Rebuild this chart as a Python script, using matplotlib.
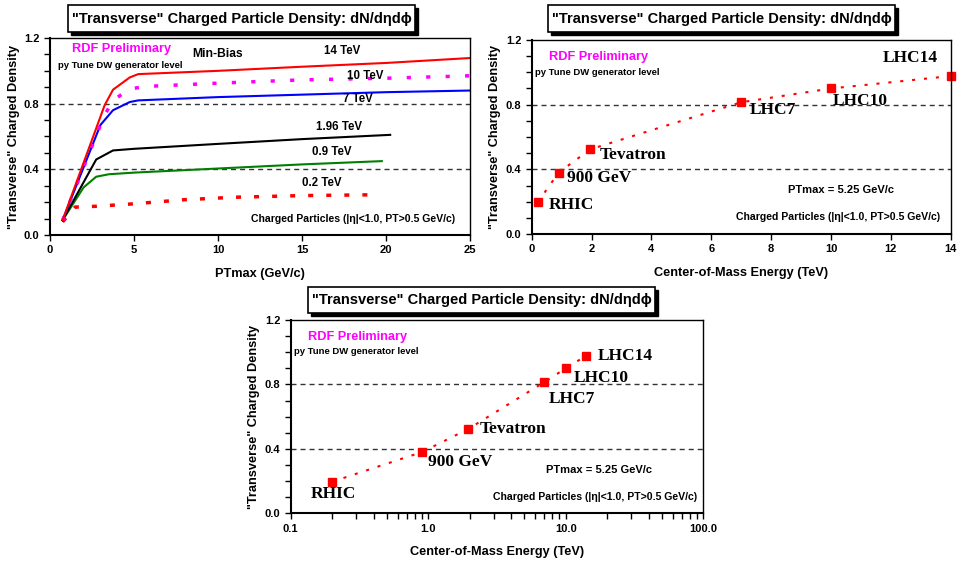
# coding:utf-8
import numpy as np
import matplotlib
matplotlib.use('Agg')
from matplotlib import pyplot as plt
from matplotlib.patches import Rectangle
from matplotlib.ticker import MultipleLocator, FixedLocator, LogLocator, NullFormatter

plt.rcParams['font.family'] = ['Liberation Sans', 'DejaVu Sans']
plt.rcParams['font.weight'] = 'bold'
plt.rcParams['axes.labelweight'] = 'bold'
plt.rcParams['lines.scale_dashes'] = False
plt.rcParams['figure.dpi'] = 100

# 左上图: 不同能量下 "Transverse" 密度随 PTmax 变化
x_14 = [0.75, 3.25, 3.75, 4.75, 5.25, 10, 15, 20, 25]
y_14 = [0.09, 0.79, 0.885, 0.96, 0.98, 1.0, 1.025, 1.048, 1.078]
x_10 = [0.75, 3.2, 3.75, 4.75, 5.75, 10, 15, 20, 25]
y_10 = [0.09, 0.72, 0.82, 0.89, 0.905, 0.925, 0.945, 0.955, 0.97]
x_7 = [0.75, 3.0, 3.75, 4.75, 5.25, 10, 15, 20, 25]
y_7 = [0.09, 0.67, 0.76, 0.81, 0.82, 0.84, 0.855, 0.87, 0.88]
x_196 = [0.75, 2.75, 3.75, 5, 10, 15, 20.25]
y_196 = [0.09, 0.46, 0.515, 0.525, 0.555, 0.584, 0.61]
x_09 = [0.75, 2.0, 2.75, 3.5, 5, 10, 15, 19.75]
y_09 = [0.09, 0.29, 0.355, 0.37, 0.38, 0.405, 0.43, 0.45]
x_02 = [0.75, 1.5, 2.75, 5, 8, 11, 15, 19.25]
y_02 = [0.08, 0.17, 0.175, 0.19, 0.215, 0.23, 0.24, 0.245]

# 右上图和下图: PTmax = 5.25 GeV/c 时的密度
energy = [0.2, 0.9, 1.96, 7, 10, 14]
density = [0.196, 0.38, 0.524, 0.815, 0.90, 0.977]
names = ['RHIC', '900 GeV', 'Tevatron', 'LHC7', 'LHC10', 'LHC14']

W, H = 963, 563
fig = plt.figure(figsize=(W / 100, H / 100))

TITLE = '"Transverse" Charged Particle Density: dN/d\u03b7d\u03d5'
CHG = 'Charged Particles (|\u03b7|<1.0, PT>0.5 GeV/c)'
serif = ['Liberation Serif', 'DejaVu Serif']
GRAY_DASH = (0, (3.6, 2.9))
RED_DOT = (0, (2.2, 6.4))


def ax_px(l, t, r, b):
    # 像素坐标 -> figure 比例
    return fig.add_axes([l / W, 1 - b / H, (r - l) / W, (b - t) / H])


def title_box(l, t, r, b):
    fig.add_artist(Rectangle(((l + 3) / W, 1 - (b + 3) / H), (r - l) / W, (b - t) / H,
                             transform=fig.transFigure, facecolor='black', edgecolor='black'))
    fig.add_artist(Rectangle((l / W, 1 - b / H), (r - l) / W, (b - t) / H,
                             transform=fig.transFigure, facecolor='white', edgecolor='black', lw=1.2))
    fig.text((l + r) / 2 / W, 1 - (t + b) / 2 / H, TITLE, ha='center', va='center',
             fontsize=10.5, fontweight='bold')


def style_ax(ax):
    ax.set_ylim(0, 1.2)
    ax.yaxis.set_major_locator(FixedLocator([0, 0.4, 0.8, 1.2]))
    ax.yaxis.set_minor_locator(MultipleLocator(0.1))
    ax.yaxis.set_major_formatter(plt.FuncFormatter(lambda v, p: '%.1f' % v))
    ax.tick_params(which='both', direction='out', length=4, width=1, labelsize=8)
    for s in ax.spines.values():
        s.set_linewidth(1.0)
    for s in ['left', 'bottom']:
        ax.spines[s].set_linewidth(1.5)
    ax.axhline(0.4, color='#333333', lw=1, ls=GRAY_DASH, zorder=1)
    ax.axhline(0.8, color='#333333', lw=1, ls=GRAY_DASH, zorder=1)
    ax.set_ylabel('"Transverse" Charged Density', fontsize=9.2, labelpad=3)
    for lab in ax.get_xticklabels() + ax.get_yticklabels():
        lab.set_fontweight('bold')


# ---------- 左上 ----------
ax1 = ax_px(50, 38, 470, 235)
title_box(68, 5, 415, 32)
ax1.plot(x_02, y_02, color='red', lw=2.5, ls=(0, (3.6, 9.4)))
ax1.plot(x_09, y_09, color='#007f00', lw=1.5)
ax1.plot(x_196, y_196, color='black', lw=1.5)
ax1.plot(x_7, y_7, color='blue', lw=1.5)
ax1.plot(x_10, y_10, color='magenta', lw=2.5, ls=(0, (3, 11)))
ax1.plot(x_14, y_14, color='red', lw=1.5)
ax1.set_xlim(0, 25)
ax1.xaxis.set_major_locator(MultipleLocator(5))
style_ax(ax1)
ax1.set_xlabel('PTmax (GeV/c)', fontsize=9.2, labelpad=9)
ax1.text(17.4, 1.118, '14 TeV', fontsize=8.3, ha='center', va='center')
ax1.text(18.75, 0.966, '10 TeV', fontsize=8.3, ha='center', va='center')
ax1.text(18.35, 0.828, '7 TeV', fontsize=8.3, ha='center', va='center')
ax1.text(17.2, 0.655, '1.96 TeV', fontsize=8.3, ha='center', va='center')
ax1.text(16.8, 0.508, '0.9 TeV', fontsize=8.3, ha='center', va='center')
ax1.text(16.2, 0.315, '0.2 TeV', fontsize=8.3, ha='center', va='center')
ax1.text(10.0, 1.10, 'Min-Bias', fontsize=8.7, ha='center', va='center')
ax1.text(1.29, 1.13, 'RDF Preliminary', fontsize=9.2, color='magenta', va='center')
ax1.text(0.5, 1.033, 'py Tune DW generator level', fontsize=6.8, va='center')
ax1.text(24.1, 0.098, CHG, fontsize=7.6, ha='right', va='center')

# ---------- 右上 ----------
ax2 = ax_px(531.7, 40, 950.7, 234)
title_box(548, 5, 895, 32)
ax2.plot(energy, density, color='red', lw=1.5, ls=RED_DOT, marker='s', ms=5.5, clip_on=False)
ax2.set_xlim(0, 14)
ax2.xaxis.set_major_locator(MultipleLocator(2))
style_ax(ax2)
ax2.set_xlabel('Center-of-Mass Energy (TeV)', fontsize=9.2, labelpad=9)
pos2 = [(1.34, 0.179), (2.26, 0.344), (3.37, 0.489), (8.07, 0.767), (10.97, 0.825), (12.64, 1.087)]
for n, (tx, ty) in zip(names, pos2):
    ax2.text(tx, ty, n, fontsize=12.5, family=serif, fontweight='bold', ha='center', va='center')
ax2.text(10.35, 0.272, 'PTmax = 5.25 GeV/c', fontsize=8, ha='center', va='center')
ax2.text(13.64, 0.107, CHG, fontsize=7.6, ha='right', va='center')
ax2.text(0.59, 1.097, 'RDF Preliminary', fontsize=9.2, color='magenta', va='center')
ax2.text(0.11, 1.0, 'py Tune DW generator level', fontsize=6.8, va='center')

# ---------- 下图 (对数坐标) ----------
ax3 = ax_px(290.7, 320, 703.3, 513.3)
title_box(308, 287, 655, 313)
ax3.plot(energy, density, color='red', lw=1.5, ls=RED_DOT, marker='s', ms=5.5)
ax3.set_xscale('log')
ax3.set_xlim(0.1, 100)
ax3.xaxis.set_major_locator(LogLocator(base=10))
ax3.xaxis.set_minor_locator(LogLocator(base=10, subs=np.arange(2, 10)))
ax3.xaxis.set_minor_formatter(NullFormatter())
ax3.xaxis.set_major_formatter(plt.FuncFormatter(lambda v, p: '%.1f' % v))
style_ax(ax3)
ax3.set_xlabel('Center-of-Mass Energy (TeV)', fontsize=9.2, labelpad=9)
pos3 = [(0.204, 0.12), (1.70, 0.32), (4.11, 0.521), (11.0, 0.71), (18.2, 0.838), (26.9, 0.977)]
for n, (tx, ty) in zip(names, pos3):
    ax3.text(tx, ty, n, fontsize=12.5, family=serif, fontweight='bold', ha='center', va='center')
ax3.text(17.5, 0.269, 'PTmax = 5.25 GeV/c', fontsize=8, ha='center', va='center')
ax3.text(16.3, 0.103, CHG, fontsize=7.6, ha='center', va='center')
ax3.text(0.134, 1.097, 'RDF Preliminary', fontsize=9.2, color='magenta', va='center')
ax3.text(0.106, 1.003, 'py Tune DW generator level', fontsize=6.8, va='center')

fig.savefig('out.png', dpi=100)
